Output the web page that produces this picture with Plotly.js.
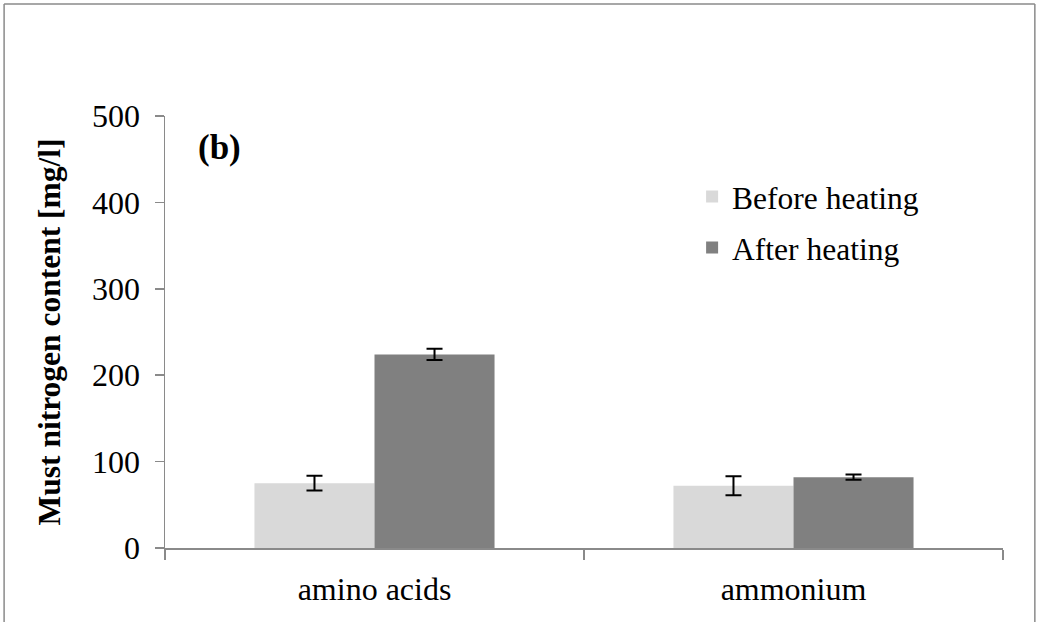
<!DOCTYPE html>
<html>
<head>
<meta charset="utf-8">
<script src="https://cdn.plot.ly/plotly-3.0.1.min.js"></script>
<style>
  html, body { margin: 0; padding: 0; background: #fff; }
  #chart { width: 1037px; height: 622px; }
</style>
</head>
<body>
<div id="chart"></div>
<script>
const categories = ["amino acids", "ammonium"];
const beforeHeating = [75, 72];
const beforeErr = [8.5, 11];
const afterHeating = [224, 82];
const afterErr = [6.5, 3];
const seriesNames = ["Before heating", "After heating"];
const yTicks = [0, 100, 200, 300, 400, 500];

const FONT = "Liberation Serif, Times New Roman, serif";
const AXIS_COL = "#8a8a8a";

const traces = [
  {
    type: "bar", name: seriesNames[0], x: categories, y: beforeHeating,
    marker: { color: "#d9d9d9" }, legendgroup: "a",
    error_y: { type: "data", array: beforeErr, visible: true, color: "#000", thickness: 2, width: 8 }
  },
  {
    type: "bar", name: seriesNames[1], x: categories, y: afterHeating,
    marker: { color: "#808080" }, legendgroup: "b",
    error_y: { type: "data", array: afterErr, visible: true, color: "#000", thickness: 2, width: 8 }
  }
];

const layout = {
  width: 1037, height: 622,
  margin: { l: 165, r: 34, t: 116, b: 74, pad: 0 },
  paper_bgcolor: "#fff", plot_bgcolor: "#fff",
  font: { family: FONT, size: 31, color: "#000" },
  barmode: "group", bargap: 0.427, bargroupgap: 0,
  showlegend: true,
  legend: {
    x: 0.629, y: 0.876, xanchor: "left", yanchor: "top",
    traceorder: "grouped", tracegroupgap: 7,
    font: { family: FONT, size: 31.5, color: "#000" },
    bgcolor: "rgba(0,0,0,0)"
  },
  xaxis: {
    type: "category", showline: true, linecolor: AXIS_COL, linewidth: 1.5,
    ticks: "outside", tickson: "boundaries", ticklen: 10, tickcolor: AXIS_COL, tickwidth: 1.5,
    showgrid: false, zeroline: false, ticklabelstandoff: 12,
    tickfont: { family: FONT, size: 32, color: "#000" }
  },
  yaxis: {
    range: [0, 500], tickvals: yTicks, ticktext: yTicks.map(String),
    showline: true, linecolor: AXIS_COL, linewidth: 1.5,
    ticks: "outside", ticklen: 9, tickcolor: AXIS_COL, tickwidth: 1.5,
    showgrid: false, zeroline: false, ticklabelstandoff: 8,
    tickfont: { family: FONT, size: 32, color: "#000" },
    title: { text: "<b>Must nitrogen content [mg/l]</b>", standoff: 22,
             font: { family: FONT, size: 31.5, color: "#000" } },
    automargin: false
  },
  annotations: [
    { xref: "paper", yref: "paper", x: 0.0656, y: 0.928, xanchor: "center", yanchor: "middle",
      text: "<b>(b)</b>", showarrow: false, font: { family: FONT, size: 35, color: "#000" } }
  ],
  shapes: [
    { type: "line", xref: "paper", yref: "paper", x0: -0.192, x1: 1.038, y0: 1.259, y1: 1.259,
      line: { color: AXIS_COL, width: 1.5 } },
    { type: "line", xref: "paper", yref: "paper", x0: -0.192, x1: -0.192, y0: 1.259, y1: -0.2,
      line: { color: AXIS_COL, width: 1.5 } },
    { type: "line", xref: "paper", yref: "paper", x0: 1.038, x1: 1.038, y0: 1.259, y1: -0.2,
      line: { color: AXIS_COL, width: 1.5 } }
  ]
};

Plotly.newPlot("chart", traces, layout, { displayModeBar: false, staticPlot: true });
</script>
</body>
</html>
